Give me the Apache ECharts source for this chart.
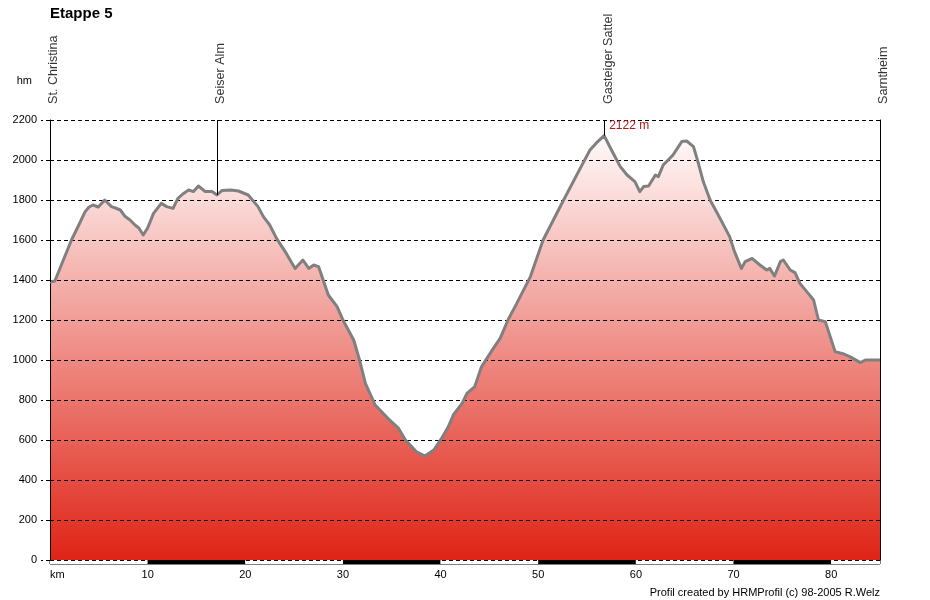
<!DOCTYPE html>
<html><head><meta charset="utf-8">
<script src="https://cdn.jsdelivr.net/npm/echarts@6/dist/echarts.min.js"></script>
<style>html,body{margin:0;padding:0;background:#fff}#c{width:930px;height:600px}</style>
</head><body><div id="c"></div>
<script>
const titleText = 'Etappe 5';
const creditText = 'Profil created by HRMProfil (c) 98-2005 R.Welz';
const yName = 'hm';
const xName = 'km';
const kmMax = 85;
const elevMax = 2200;
const km = [0,0.5,1.2,2.2,3.0,3.6,4.0,4.4,4.95,5.6,6.3,6.7,7.2,7.7,8.2,8.7,9.1,9.55,10.0,10.6,11.4,11.95,12.6,13.1,13.6,14.2,14.7,15.2,15.9,16.6,17.1,17.6,18.5,19.3,20.3,21.3,21.85,22.5,23.2,24.2,25.1,25.9,26.5,27.0,27.5,28.5,29.4,30.0,31.1,31.7,32.3,33.3,34.6,35.7,36.4,37.5,38.4,39.3,40.1,40.8,41.3,42.2,42.7,43.5,44.2,45.4,46.1,46.9,47.8,49.2,50.5,52.6,54.3,55.3,56.1,56.75,57.5,58.4,59.1,59.9,60.4,60.8,61.3,62.0,62.3,62.8,63.3,63.8,64.7,65.2,65.9,66.4,66.9,67.6,68.6,69.6,70.1,70.8,71.2,71.9,72.7,73.4,73.7,74.2,74.8,75.1,75.8,76.3,76.8,77.5,78.2,78.7,79.4,79.9,80.4,81.3,81.9,83.0,83.5,85.0];
const elev = [1390,1395,1480,1600,1680,1742,1765,1775,1765,1800,1767,1760,1750,1717,1700,1675,1660,1625,1660,1733,1783,1767,1758,1808,1830,1850,1842,1870,1842,1842,1825,1847,1850,1845,1825,1767,1717,1675,1608,1533,1458,1500,1458,1475,1467,1325,1267,1200,1100,1000,883,775,708,658,600,542,520,550,608,667,725,783,833,867,967,1058,1108,1200,1283,1417,1600,1800,1958,2050,2092,2122,2050,1967,1925,1892,1842,1867,1870,1925,1917,1975,2000,2025,2092,2095,2067,1983,1892,1800,1710,1617,1542,1458,1492,1508,1475,1450,1458,1420,1492,1500,1450,1437,1383,1342,1300,1200,1192,1117,1042,1030,1017,987,1000,1000];
const stopNames = ['St. Christina','Seiser Alm','Gasteiger Sattel','Sarntheim'];
const stopKm = [0,17.1,56.75,85];
const stopElev = [1390,1825,2122,1000];

const profile = km.map((k,i)=>[k, elev[i]]);
const chart = echarts.init(document.getElementById('c'), null, {renderer:'canvas'});
const dash = [4,3];
chart.setOption({
  animation:false,
  backgroundColor:'#fff',
  textStyle:{fontFamily:'Arial, "Liberation Sans", sans-serif'},
  title:[
    {text:titleText, left:50, top:6, padding:0, textStyle:{fontSize:15, fontWeight:'bold', color:'#000'}},
    {text:creditText, right:50, top:587, padding:0, textStyle:{fontSize:11, fontWeight:'normal', color:'#000'}}
  ],
  grid:[
    {left:50, right:50, top:120, bottom:40},
    {left:50, right:50, top:560, height:4, show:true, borderColor:'#000', borderWidth:1, backgroundColor:'transparent'}
  ],
  xAxis:[
    {gridIndex:0, type:'value', min:0, max:kmMax, interval:10, axisLine:{show:false}, axisTick:{show:false}, axisLabel:{show:false}, splitLine:{show:false}},
    {gridIndex:1, type:'value', min:0, max:kmMax, interval:10, axisLine:{show:false}, axisTick:{show:false}, splitLine:{show:false},
     splitArea:{show:true, areaStyle:{color:['#ffffff','#000000']}},
     axisLabel:{show:true, margin:5, fontSize:11, color:'#000', alignMinLabel:'left', showMaxLabel:false,
       formatter:v=> v===0 ? xName : (v>=kmMax ? '' : String(v))}}
  ],
  yAxis:[
    {gridIndex:0, type:'value', min:0, max:elevMax, interval:200, z:3,
     name:yName, nameLocation:'end', nameGap:39, nameTextStyle:{fontSize:11, color:'#000', align:'right', verticalAlign:'middle', padding:[0,18,0,0]},
     axisLine:{show:true, lineStyle:{color:'#000', width:1}},
     axisTick:{show:true, length:9, lineStyle:{color:'#000', type:dash}},
     axisLabel:{fontSize:11, color:'#000', margin:13, formatter:v=>String(v)},
     splitLine:{show:true, lineStyle:{color:'#000', width:1, type:dash}}},
    {gridIndex:0, type:'value', min:0, max:elevMax, interval:200, position:'right', z:3,
     axisLine:{show:true, lineStyle:{color:'#000', width:1}}, axisTick:{show:false}, axisLabel:{show:false}, splitLine:{show:false}},
    {gridIndex:1, type:'value', min:0, max:1, show:false}
  ],
  series:[
    {type:'line', xAxisIndex:0, yAxisIndex:0, data:profile, symbol:'none', z:1, silent:true,
     lineStyle:{width:0, opacity:0},
     areaStyle:{opacity:1, color:new echarts.graphic.LinearGradient(0,0,0,1,[{offset:0,color:'#fffafa'},{offset:1,color:'#df2416'}])}},
    {type:'line', xAxisIndex:0, yAxisIndex:0, data:profile, symbol:'none', z:4, silent:true,
     lineStyle:{width:3, color:'#808080', join:'round'},
     markPoint:{symbol:'circle', symbolSize:0, silent:true, data:[{type:'max'}],
       label:{show:true, position:'right', distance:5, offset:[0,-10], fontSize:12, color:'#b01818', formatter:p=>p.value+' m'}}},
    {type:'scatter', xAxisIndex:0, yAxisIndex:0, symbolSize:0, z:5, silent:true,
     data:stopKm.map((k,i)=>({value:[k, elevMax], name:stopNames[i]})),
     label:{show:true, position:'top', distance:16, rotate:90, align:'left', verticalAlign:'middle', offset:[0,4], fontSize:12.6, color:'#000', formatter:p=>p.name},
     markLine:{symbol:['none','none'], silent:true, label:{show:false}, lineStyle:{color:'#000', width:1, type:'solid'},
       data:stopKm.map((k,i)=>[{coord:[k, stopElev[i]]},{coord:[k, elevMax]}])}}
  ]
});
</script></body></html>
